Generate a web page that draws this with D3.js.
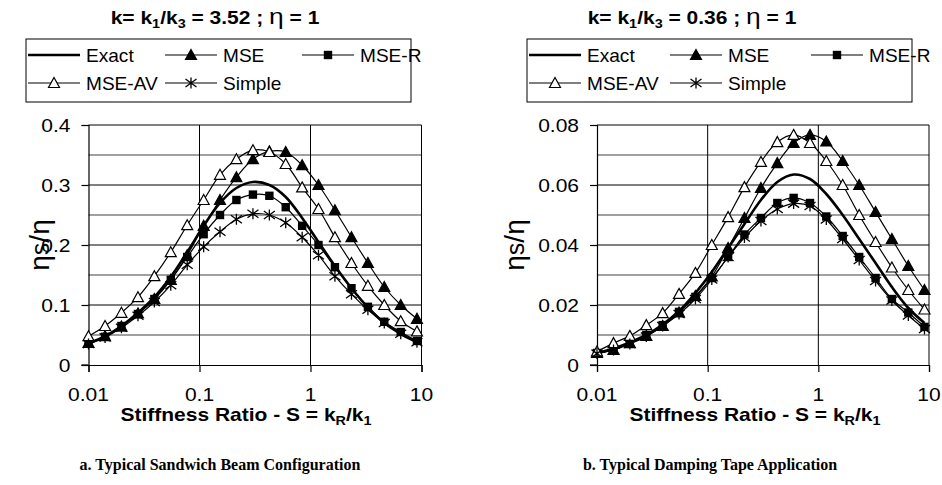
<!DOCTYPE html>
<html><head><meta charset="utf-8">
<script src="https://cdn.jsdelivr.net/npm/d3@7"></script>
<style>body{margin:0;background:#fff;}svg{display:block;}</style>
</head><body>
<svg id="c" width="942" height="485"></svg>
<script>
// ---- data ----
const seriesNames = ["Exact", "MSE", "MSE-R", "MSE-AV", "Simple"];
const xTicks = [0.01, 0.1, 1, 10];
const xTickLabels = ["0.01", "0.1", "1", "10"];
const sValues = [0.01, 0.0141, 0.0198, 0.0279, 0.0392, 0.0551, 0.0775, 0.109, 0.153, 0.215, 0.303, 0.426, 0.598, 0.841, 1.18, 1.66, 2.34, 3.29, 4.62, 6.5, 9.1];

// (a) k = 3.52
const aTicks = [0, 0.1, 0.2, 0.3, 0.4];
const aTickLabels = ["0", "0.1", "0.2", "0.3", "0.4"];
const aExact  = [0.036,0.048,0.065,0.087,0.113,0.147,0.188,0.232,0.270,0.295,0.305,0.300,0.280,0.245,0.205,0.165,0.128,0.096,0.070,0.052,0.038];
const aMSE    = [0.037,0.048,0.064,0.086,0.110,0.142,0.183,0.232,0.275,0.313,0.343,0.356,0.355,0.333,0.300,0.258,0.213,0.170,0.130,0.100,0.077];
const aMSER   = [0.036,0.047,0.065,0.085,0.110,0.142,0.180,0.218,0.250,0.275,0.284,0.282,0.263,0.232,0.200,0.163,0.128,0.097,0.072,0.055,0.040];
const aMSEAV  = [0.048,0.065,0.087,0.113,0.148,0.188,0.233,0.275,0.317,0.343,0.358,0.355,0.335,0.296,0.260,0.213,0.170,0.132,0.100,0.073,0.056];
const aSimple = [0.035,0.046,0.062,0.082,0.105,0.133,0.167,0.197,0.222,0.243,0.252,0.250,0.237,0.213,0.183,0.148,0.118,0.092,0.070,0.052,0.038];

// (b) k = 0.36
const bTicks = [0, 0.02, 0.04, 0.06, 0.08];
const bTickLabels = ["0", "0.02", "0.04", "0.06", "0.08"];
const bExact  = [0.0040,0.0055,0.0075,0.0100,0.0135,0.0180,0.0240,0.0310,0.0390,0.0470,0.0550,0.0610,0.0635,0.0620,0.0570,0.0500,0.0420,0.0340,0.0260,0.0190,0.0140];
const bMSE    = [0.0040,0.0050,0.0073,0.0097,0.0130,0.0175,0.0230,0.0295,0.0390,0.0490,0.0590,0.0673,0.0740,0.0767,0.0745,0.0680,0.0600,0.0510,0.0420,0.0330,0.0250];
const bMSER   = [0.0040,0.0050,0.0073,0.0100,0.0133,0.0177,0.0227,0.0290,0.0360,0.0435,0.0490,0.0540,0.0557,0.0540,0.0495,0.0430,0.0360,0.0290,0.0220,0.0175,0.0127];
const bMSEAV  = [0.0045,0.0073,0.0097,0.0133,0.0173,0.0237,0.0307,0.0400,0.0493,0.0593,0.0677,0.0743,0.0767,0.0740,0.0680,0.0600,0.0500,0.0410,0.0325,0.0250,0.0185];
const bSimple = [0.0038,0.0050,0.0070,0.0095,0.0130,0.0170,0.0220,0.0285,0.0360,0.0425,0.0480,0.0520,0.0538,0.0530,0.0485,0.0420,0.0350,0.0280,0.0215,0.0165,0.0120];

// ---- drawing ----
const svg = d3.select("#c");
const FONT = "Liberation Sans, Arial, sans-serif";

function stext(g, x, y, size, sx, anchor, weight, family) {
  return g.append("text")
    .attr("transform", `translate(${x},${y}) scale(${sx},1)`)
    .attr("text-anchor", anchor)
    .attr("font-size", size)
    .attr("font-weight", weight || "normal")
    .attr("font-family", family || FONT)
    .attr("fill", "#000");
}

const markerStyles = {
  "Exact": {type: "none", width: 2.6},
  "MSE": {type: "tri", fill: "#000", width: 1.2},
  "MSE-R": {type: "sq", width: 1.2},
  "MSE-AV": {type: "tri", fill: "#fff", width: 1.2},
  "Simple": {type: "star", width: 1.2}
};

function drawMarker(g, type, fill, x, y) {
  if (type === "tri") {
    g.append("path").attr("d", `M${x},${y-5.5}L${x+5.5},${y+4.5}L${x-5.5},${y+4.5}Z`)
      .attr("fill", fill).attr("stroke", "#000").attr("stroke-width", 1.2);
  } else if (type === "sq") {
    g.append("rect").attr("x", x-4.2).attr("y", y-4.2).attr("width", 8.4).attr("height", 8.4).attr("fill", "#000");
  } else if (type === "star") {
    g.append("path").attr("d", `M${x},${y-5.5}V${y+5.5}M${x-5.5},${y-4}L${x+5.5},${y+4}M${x-5.5},${y+4}L${x+5.5},${y-4}`)
      .attr("stroke", "#000").attr("stroke-width", 1.3).attr("fill", "none");
  }
}

function drawChart(cfg) {
  const g = svg.append("g");
  const x = d3.scaleLog().domain([0.01, 10]).range([cfg.x0, cfg.x1]);
  const y = d3.scaleLinear().domain([0, cfg.yMax]).range([cfg.yB, cfg.yT]);

  // horizontal gridlines (minor then major)
  const step = cfg.ticks[1] - cfg.ticks[0];
  const minor = cfg.ticks.slice(0, -1).map(t => t + step / 2);
  g.selectAll(".mg").data(minor).enter().append("line")
    .attr("x1", cfg.x0).attr("x2", cfg.x1).attr("y1", d => y(d)).attr("y2", d => y(d))
    .attr("stroke", "#808080").attr("stroke-width", 1.6);
  g.selectAll(".Mg").data(cfg.ticks.slice(1)).enter().append("line")
    .attr("x1", cfg.x0).attr("x2", cfg.x1).attr("y1", d => y(d)).attr("y2", d => y(d))
    .attr("stroke", "#000").attr("stroke-width", 1);
  // vertical gridlines
  g.selectAll(".vg").data(xTicks.slice(1)).enter().append("line")
    .attr("x1", d => x(d)).attr("x2", d => x(d)).attr("y1", cfg.yT).attr("y2", cfg.yB)
    .attr("stroke", "#000").attr("stroke-width", 1);

  // axes
  const yAxis = d3.axisLeft(y).tickValues(cfg.ticks).tickSize(7).tickFormat("");
  g.append("g").attr("transform", `translate(${cfg.x0},0)`).call(yAxis)
    .call(a => a.selectAll("path,line").attr("stroke", "#000").attr("stroke-width", 1.2));
  const xAxis = d3.axisBottom(x).tickValues(xTicks).tickSize(7).tickFormat("");
  g.append("g").attr("transform", `translate(0,${cfg.yB})`).call(xAxis)
    .call(a => a.selectAll("path,line").attr("stroke", "#000").attr("stroke-width", 1.2));
  g.append("line").attr("x1", cfg.x0 - 7).attr("x2", cfg.x0).attr("y1", cfg.yB).attr("y2", cfg.yB).attr("stroke", "#000").attr("stroke-width", 1.2);

  // tick labels
  cfg.ticks.forEach((t, i) => {
    stext(g, cfg.x0 - 18, y(t) + 6.5, 17.5, 1.2, "end").text(cfg.tickLabels[i]);
  });
  xTicks.forEach((t, i) => {
    stext(g, x(t), cfg.yB + 36, 17.5, 1.2, "middle").text(xTickLabels[i]);
  });

  // series
  const line = d3.line().x(d => x(d[0])).y(d => y(d[1])).curve(d3.curveCatmullRom.alpha(0.5));
  cfg.series.forEach((vals, si) => {
    const name = seriesNames[si];
    const st = markerStyles[name];
    const pts = sValues.map((s, i) => [s, vals[i]]);
    g.append("path").datum(pts).attr("d", line).attr("fill", "none")
      .attr("stroke", "#000").attr("stroke-width", st.width);
  });
  cfg.series.forEach((vals, si) => {
    const st = markerStyles[seriesNames[si]];
    if (st.type === "none") return;
    sValues.forEach((s, i) => drawMarker(g, st.type, st.fill, x(s), y(vals[i])));
  });

  // title
  const tt = stext(g, cfg.titleX, 24, 17.5, 1.2, "middle", "bold");
  tt.append("tspan").text("k= k");
  tt.append("tspan").attr("font-size", 12).attr("dy", 4).text("1");
  tt.append("tspan").attr("dy", -4).text("/k");
  tt.append("tspan").attr("font-size", 12).attr("dy", 4).text("3");
  tt.append("tspan").attr("dy", -4).text(" = " + cfg.k + " ; ");
  tt.append("tspan").attr("font-weight", "normal").attr("font-size", 22).text("η");
  tt.append("tspan").text(" = 1");

  // legend
  const L = g.append("g");
  L.append("rect").attr("x", cfg.lx).attr("y", 39).attr("width", cfg.lw).attr("height", 63)
    .attr("fill", "#fff").attr("stroke", "#000").attr("stroke-width", 1);
  const pos = [[0, 0], [1, 0], [2, 0], [0, 1], [1, 1]];
  seriesNames.forEach((name, i) => {
    const st = markerStyles[name];
    const cx = cfg.lx + 2 + pos[i][0] * cfg.colW;
    const cy = 55 + pos[i][1] * 28;
    L.append("line").attr("x1", cx).attr("x2", cx + 52).attr("y1", cy).attr("y2", cy)
      .attr("stroke", "#000").attr("stroke-width", st.width);
    if (st.type !== "none") drawMarker(L, st.type, st.fill, cx + 26, cy);
    stext(L, cx + 58, cy + 6.5, 18, 1.06, "start").text(name);
  });

  // y-axis label
  const yl = g.append("text").attr("transform", `translate(${cfg.ylX},${cfg.ylY}) rotate(-90)`)
    .attr("text-anchor", "middle").attr("font-family", FONT).attr("font-size", 28);
  yl.append("tspan").text("η");
  yl.append("tspan").attr("font-size", 25).text("s");
  yl.append("tspan").text("/η");

  // x-axis title
  const xt = stext(g, cfg.xtX, 421, 17.5, 1.2, "middle", "bold");
  xt.append("tspan").text("Stiffness Ratio - S = k");
  xt.append("tspan").attr("font-size", 12).attr("dy", 4).text("R");
  xt.append("tspan").attr("dy", -4).text("/k");
  xt.append("tspan").attr("font-size", 12).attr("dy", 4).text("1");

  // caption
  stext(g, cfg.capX, 470, 16, 1.0, "middle", "bold", "Liberation Serif, Times New Roman, serif").text(cfg.caption);
}

drawChart({x0: 88.5, x1: 421.5, yB: 365, yT: 125, yMax: 0.4, ticks: aTicks, tickLabels: aTickLabels,
  series: [aExact, aMSE, aMSER, aMSEAV, aSimple], k: "3.52", titleX: 215, lx: 26, lw: 385, colW: 137,
  ylX: 49, ylY: 245, xtX: 246, capX: 220, caption: "a. Typical Sandwich Beam Configuration"});
drawChart({x0: 597, x1: 929, yB: 365, yT: 125, yMax: 0.08, ticks: bTicks, tickLabels: bTickLabels,
  series: [bExact, bMSE, bMSER, bMSEAV, bSimple], k: "0.36", titleX: 692, lx: 527, lw: 385, colW: 141,
  ylX: 524, ylY: 245, xtX: 755, capX: 710, caption: "b. Typical Damping Tape Application"});
</script>
</body></html>
